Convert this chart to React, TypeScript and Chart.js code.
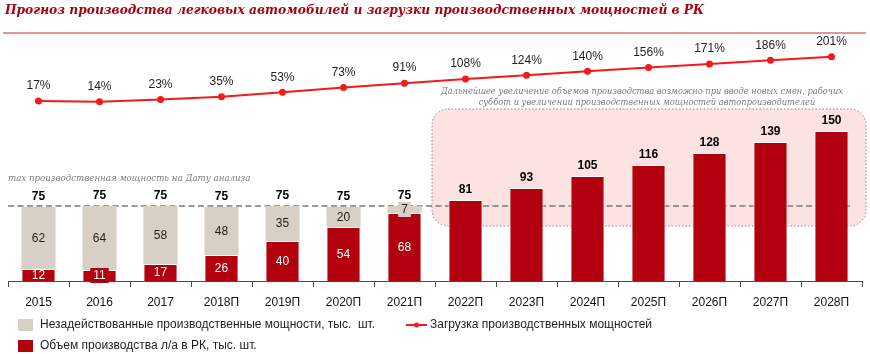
import React, { useEffect, useRef } from 'react';
import { Chart, registerables } from 'chart.js';

Chart.register(...registerables);

// ---------- data ----------
const categories = ['2015', '2016', '2017', '2018П', '2019П', '2020П', '2021П', '2022П', '2023П', '2024П', '2025П', '2026П', '2027П', '2028П'];
const production = [12, 11, 17, 26, 40, 54, 68, 81, 93, 105, 116, 128, 139, 150];
const unusedCapacity = [62, 64, 58, 48, 35, 20, 7, 0, 0, 0, 0, 0, 0, 0];
const totalLabels = [75, 75, 75, 75, 75, 75, 75, 81, 93, 105, 116, 128, 139, 150];
const utilization = [17, 14, 23, 35, 53, 73, 91, 108, 124, 140, 156, 171, 186, 201];
const capacityLevel = 75;

const TITLE = 'Прогноз производства легковых автомобилей и загрузки производственных мощностей в РК';
const LEGEND_UNUSED = 'Незадействованные производственные мощности, тыс.  шт.';
const LEGEND_PROD = 'Объем производства л/а в РК, тыс. шт.';
const LEGEND_LINE = 'Загрузка производственных мощностей';
const NOTE_CAP = 'max производственная мощность на Дату анализа';
const NOTE_BOX = [
  'Дальнейшее увеличение объемов производства возможно при вводе новых смен, рабочих',
  'суббот и увеличении производственных мощностей автопроизводителей',
];

// ---------- styles ----------
const RED = '#b3000f';
const BEIGE = '#d9d0c5';
const LINE_RED = '#f41a1a';
const PINK = '#fde2e2';
const NOTE_GRAY = '#7a7a7a';
const SANS = '"Liberation Sans", Arial, sans-serif';
const SERIF = '"DejaVu Serif", Georgia, serif';

function fitSize(ctx: CanvasRenderingContext2D, text: string, style: string, family: string, target: number) {
  ctx.font = `${style} 20px ${family}`;
  const w = ctx.measureText(text).width;
  return (20 * target) / w;
}

function roundRect(ctx: CanvasRenderingContext2D, x: number, y: number, w: number, h: number, r: number) {
  ctx.beginPath();
  ctx.moveTo(x + r, y);
  ctx.lineTo(x + w - r, y);
  ctx.arcTo(x + w, y, x + w, y + r, r);
  ctx.lineTo(x + w, y + h - r);
  ctx.arcTo(x + w, y + h, x + w - r, y + h, r);
  ctx.lineTo(x + r, y + h);
  ctx.arcTo(x, y + h, x, y + h - r, r);
  ctx.lineTo(x, y + r);
  ctx.arcTo(x, y, x + r, y, r);
  ctx.closePath();
}

const backgroundPlugin = {
  id: 'backgroundDecor',
  beforeDatasetsDraw(chart: any) {
    const { ctx, chartArea, scales } = chart;
    const xs = scales.x;
    const ys = scales.y;
    ctx.save();
    // pink forecast box
    const left = xs.getPixelForValue(6.5) - 3;
    const right = chartArea.right + 4;
    const top = ys.getPixelForValue(172);
    const bottom = ys.getPixelForValue(55);
    roundRect(ctx, left, top, right - left, bottom - top, 16);
    ctx.fillStyle = PINK;
    ctx.fill();
    ctx.setLineDash([1.5, 2]);
    ctx.lineWidth = 1;
    ctx.strokeStyle = '#8a8a8a';
    ctx.stroke();
    // capacity dashed line
    const yc = ys.getPixelForValue(capacityLevel);
    ctx.setLineDash([6, 3.5]);
    ctx.lineWidth = 1.6;
    ctx.strokeStyle = '#7a7a7a';
    ctx.beginPath();
    ctx.moveTo(chartArea.left, yc);
    ctx.lineTo(chartArea.right - 11, yc);
    ctx.stroke();
    ctx.setLineDash([]);
    // notes
    ctx.fillStyle = NOTE_GRAY;
    ctx.textBaseline = 'middle';
    ctx.textAlign = 'left';
    let s = fitSize(ctx, NOTE_CAP, 'italic', SERIF, 243);
    ctx.font = `italic ${s}px ${SERIF}`;
    ctx.fillText(NOTE_CAP, chartArea.left, yc - 27);
    ctx.textAlign = 'center';
    s = fitSize(ctx, NOTE_BOX[0], 'italic', SERIF, 403);
    ctx.font = `italic ${s}px ${SERIF}`;
    ctx.fillText(NOTE_BOX[0], 642, 92);
    ctx.fillText(NOTE_BOX[1], 647, 103);
    ctx.restore();
  },
  afterDatasetsDraw(chart: any) {
    const { ctx } = chart;
    const prodMeta = chart.getDatasetMeta(0);
    const unusedMeta = chart.getDatasetMeta(1);
    const lineMeta = chart.getDatasetMeta(2);
    ctx.save();
    ctx.textAlign = 'center';
    ctx.textBaseline = 'middle';
    const drawInside = (bar: any, value: number, fill: string, color: string) => {
      if (!value) return;
      const cy = (bar.y + bar.base) / 2;
      const h = Math.abs(bar.base - bar.y);
      ctx.font = `12px ${SANS}`;
      if (h < 12) {
        const tw = ctx.measureText(String(value)).width + 6;
        ctx.fillStyle = fill;
        ctx.fillRect(bar.x - tw / 2, cy - 7.5, tw, 15);
      }
      ctx.fillStyle = color;
      ctx.fillText(String(value), bar.x, cy + 0.5);
    };
    categories.forEach((_, i) => {
      const pb = prodMeta.data[i];
      const ub = unusedMeta.data[i];
      if (unusedCapacity[i]) {
        drawInside(pb, production[i], RED, '#ffffff');
        drawInside(ub, unusedCapacity[i], BEIGE, '#1e1e1e');
      }
      const topY = unusedCapacity[i] ? ub.y : pb.y;
      ctx.font = `bold 12px ${SANS}`;
      ctx.fillStyle = '#000000';
      ctx.fillText(String(totalLabels[i]), pb.x, topY - 10.5);
      const pt = lineMeta.data[i];
      ctx.font = `12px ${SANS}`;
      ctx.fillStyle = '#1e1e1e';
      ctx.fillText(utilization[i] + '%', pt.x, pt.y - 15);
    });
    ctx.restore();
  },
  afterDraw(chart: any) {
    const { ctx } = chart;
    ctx.save();
    // title
    const ts = fitSize(ctx, TITLE, 'italic bold', SERIF, 700);
    ctx.font = `italic bold ${ts}px ${SERIF}`;
    ctx.fillStyle = '#a8000e';
    ctx.textAlign = 'left';
    ctx.textBaseline = 'middle';
    ctx.fillText(TITLE, 5, 11);
    ctx.strokeStyle = '#e07070';
    ctx.lineWidth = 1.6;
    ctx.beginPath();
    ctx.moveTo(3, 33);
    ctx.lineTo(866, 33);
    ctx.stroke();
    // legend
    ctx.font = `12px ${SANS}`;
    ctx.fillStyle = BEIGE;
    ctx.fillRect(18, 319, 15, 12);
    ctx.fillStyle = RED;
    ctx.fillRect(18, 340, 15, 12);
    ctx.fillStyle = '#1e1e1e';
    ctx.fillText(LEGEND_UNUSED, 40, 325);
    ctx.fillText(LEGEND_PROD, 40, 346);
    ctx.strokeStyle = LINE_RED;
    ctx.lineWidth = 2;
    ctx.beginPath();
    ctx.moveTo(406, 325);
    ctx.lineTo(427, 325);
    ctx.stroke();
    ctx.fillStyle = LINE_RED;
    ctx.beginPath();
    ctx.arc(416.5, 325, 2.5, 0, Math.PI * 2);
    ctx.fill();
    ctx.fillStyle = '#1e1e1e';
    ctx.fillText(LEGEND_LINE, 430, 325);
    ctx.restore();
  },
};

export default function App() {
  const ref = useRef<HTMLCanvasElement | null>(null);
  useEffect(() => {
    if (!ref.current) return;
    const chart = new Chart(ref.current, {
      type: 'bar',
      data: {
        labels: categories,
        datasets: [
          {
            type: 'bar',
            label: LEGEND_PROD,
            data: production,
            backgroundColor: RED,
            borderColor: '#ffffff',
            borderWidth: { top: 1, left: 1, right: 1, bottom: 0 },
            borderSkipped: false,
            stack: 's',
            order: 1,
            yAxisID: 'y',
          },
          {
            type: 'bar',
            label: LEGEND_UNUSED,
            data: unusedCapacity,
            backgroundColor: BEIGE,
            borderWidth: 0,
            stack: 's',
            order: 2,
            yAxisID: 'y',
          },
          {
            type: 'line',
            label: LEGEND_LINE,
            data: utilization,
            borderColor: LINE_RED,
            backgroundColor: LINE_RED,
            borderWidth: 2,
            pointRadius: 3.5,
            pointBackgroundColor: LINE_RED,
            pointBorderWidth: 0,
            tension: 0,
            order: 0,
            yAxisID: 'y2',
          },
        ],
      } as any,
      options: {
        responsive: false,
        animation: false,
        events: [],
        layout: { padding: { left: 8, right: 8, top: 45, bottom: 0 } },
        datasets: { bar: { barPercentage: 0.56, categoryPercentage: 1 } } as any,
        plugins: { legend: { display: false }, tooltip: { enabled: false }, title: { display: false } },
        scales: {
          x: {
            stacked: true,
            grid: { offset: true, drawOnChartArea: false, drawTicks: true, tickLength: 6, color: '#4a4a4a', lineWidth: 1 },
            border: { display: true, color: '#4a4a4a', width: 1 },
            ticks: { color: '#111111', font: { family: SANS, size: 12 }, padding: 8, maxRotation: 0, autoSkip: false },
            afterFit: (scale: any) => {
              scale.height = 73;
            },
          } as any,
          y: { stacked: true, display: false, min: 0, max: 236 },
          y2: { display: false, min: -729.9, max: 249.4, stacked: false },
        },
      },
      plugins: [backgroundPlugin],
    });
    return () => chart.destroy();
  }, []);
  return (
    <div style={{ position: 'fixed', left: 0, top: 0, width: 870, height: 354, background: '#ffffff' }}>
      <canvas ref={ref} width={870} height={354} style={{ display: 'block', width: 870, height: 354 }} />
    </div>
  );
}
